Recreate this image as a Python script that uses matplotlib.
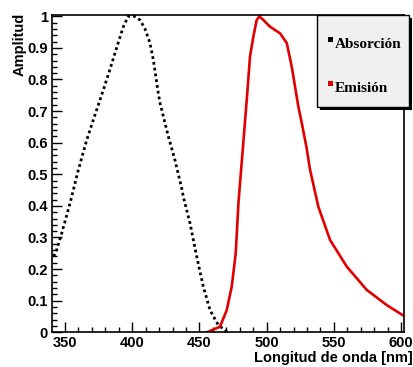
import matplotlib
matplotlib.use("Agg")
import matplotlib.pyplot as plt
from matplotlib.patches import Rectangle
from matplotlib.ticker import MultipleLocator

# Data
abs_x = [341.5, 343.3, 347.5, 353.7, 359.9, 366.1, 371.8, 378.5, 384.0, 390.2,
         393.4, 397.0, 401.6, 405.8, 409.5, 413.2, 415.7, 419.4, 420.7, 426.9,
         431.8, 434.3, 436.8, 438.0, 443.0, 448.0, 452.9, 457.9, 464.0, 469.0, 470.6]
abs_y = [0.24, 0.255, 0.313, 0.408, 0.514, 0.608, 0.682, 0.767, 0.84, 0.925,
         0.967, 1.0, 1.0, 0.988, 0.96, 0.915, 0.862, 0.756, 0.725, 0.619,
         0.545, 0.50, 0.456, 0.429, 0.345, 0.239, 0.144, 0.07, 0.023, 0.007, 0.0]

em_x = [455.4, 460.0, 465.3, 470.3, 474.0, 477.0, 479.0, 481.0, 485.2, 487.6,
        490.1, 492.6, 494.6, 497.6, 502.5, 510.0, 515.0, 518.7, 523.6, 526.0,
        529.8, 532.3, 538.5, 547.2, 559.6, 574.5, 589.4, 603.2]
em_y = [0.0, 0.008, 0.018, 0.07, 0.144, 0.25, 0.408, 0.514, 0.735, 0.872,
        0.935, 0.988, 1.0, 0.988, 0.967, 0.946, 0.915, 0.84, 0.714, 0.665,
        0.582, 0.514, 0.397, 0.292, 0.208, 0.134, 0.086, 0.049]

xticks = [350, 400, 450, 500, 550, 600]
yticks = [0, 0.1, 0.2, 0.3, 0.4, 0.5, 0.6, 0.7, 0.8, 0.9, 1]
ytick_labels = ["0", "0.1", "0.2", "0.3", "0.4", "0.5", "0.6", "0.7", "0.8", "0.9", "1"]
legend_labels = ["Absorción", "Emisión"]
legend_colors = ["black", "#e00000"]

W, H = 414, 367
fig = plt.figure(figsize=(W / 100, H / 100), dpi=100)
fig.patch.set_facecolor("white")

def fx(px):
    return px / W

def fy(py):
    return 1 - py / H

ax = fig.add_axes([fx(52), fy(332.3), fx(404) - fx(52), fy(15) - fy(332.3)])
ax.set_xlim(340.3, 602.2)
ax.set_ylim(0, 1.004)

ax.plot(abs_x, abs_y, color="black", lw=2.0, linestyle=(0, (1.0, 1.1)),
        dash_capstyle="butt", clip_on=False)
ax.plot(em_x, em_y, color="#e00000", lw=1.9, clip_on=True)

for s in ax.spines.values():
    s.set_linewidth(1.2)

ax.set_xticks(xticks)
ax.set_xticklabels([str(v) for v in xticks])
ax.set_yticks(yticks)
ax.set_yticklabels(ytick_labels)
ax.xaxis.set_minor_locator(MultipleLocator(10))
ax.yaxis.set_minor_locator(MultipleLocator(0.02))
ax.tick_params(axis="both", which="major", direction="in", length=7.0, width=1.0,
               labelsize=10.5, top=False, right=False)
ax.tick_params(axis="both", which="minor", direction="in", length=3.6, width=1.0,
               top=False, right=False)
ax.tick_params(axis="x", which="major", pad=3)
ax.tick_params(axis="y", which="major", pad=3)
for lab in ax.get_xticklabels() + ax.get_yticklabels():
    lab.set_fontweight("bold")
    lab.set_fontfamily("Liberation Sans")

fig.text(fx(20), fy(13), "Amplitud", rotation=90, ha="center", va="top",
         fontsize=10.5, fontweight="bold", family="Liberation Sans")
fig.text(fx(413), fy(358), "Longitud de onda [nm]", ha="right", va="center",
         fontsize=10.5, fontweight="bold", family="Liberation Sans")

# Legend box (ROOT style with shadow)
lx0, ly0, lx1, ly1 = 317, 15, 409, 107
sh = 3
fig.patches.append(Rectangle((fx(lx0 + sh), fy(ly1 + sh)), fx(lx1 - lx0), fy(ly0) - fy(ly1),
                             transform=fig.transFigure, facecolor="black", edgecolor="black",
                             lw=0, zorder=10))
fig.patches.append(Rectangle((fx(lx0), fy(ly1)), fx(lx1 - lx0), fy(ly0) - fy(ly1),
                             transform=fig.transFigure, facecolor="#f0f0f0", edgecolor="black",
                             lw=1.0, zorder=11))
for i, (lab, col) in enumerate(zip(legend_labels, legend_colors)):
    yc = 43 + i * 44
    fig.patches.append(Rectangle((fx(328.5), fy(yc - 1)), fx(5), fy(0) - fy(5),
                                 transform=fig.transFigure, facecolor=col, edgecolor=col,
                                 lw=0, zorder=12))
    fig.text(fx(335), fy(yc + 1), lab, ha="left", va="center", fontsize=11,
             fontweight="bold", family="Liberation Serif", zorder=13)

fig.savefig("out.png", dpi=100)
